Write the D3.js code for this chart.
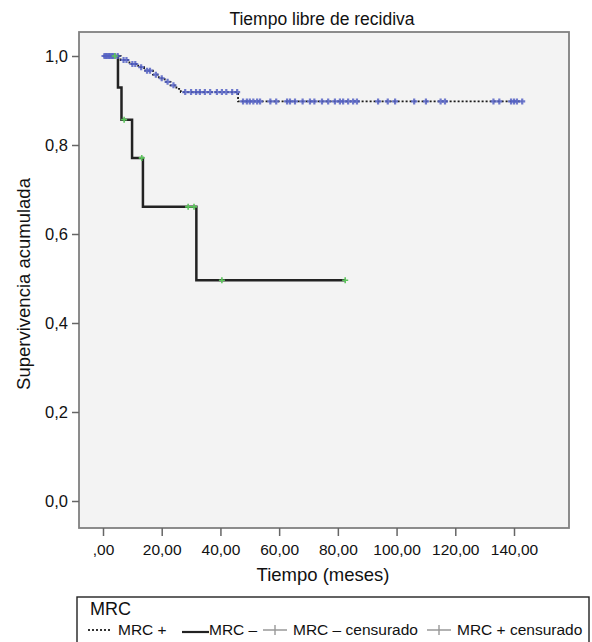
<!DOCTYPE html>
<html>
<head>
<meta charset="utf-8">
<script src="https://cdn.jsdelivr.net/npm/d3@7"></script>
<style>
  body { margin: 0; background: #fff; }
  text { font-family: "Liberation Sans", Arial, sans-serif; fill: #111; }
</style>
</head>
<body>
<script>
// Kaplan-Meier: tiempo libre de recidiva por MRC

const width = 592, height = 642;
const frame = {left: 79, right: 569, top: 32, bottom: 528};

const xTicks = [0, 20, 40, 60, 80, 100, 120, 140];
const yTicks = [0, 0.2, 0.4, 0.6, 0.8, 1.0];

// MRC - : steps (time, survival) and censored times
const negTimes = [0, 5.1, 6.3, 9.9, 13.6, 31.8, 82.5];
const negSurv  = [1, 0.929, 0.857, 0.771, 0.661, 0.496, 0.496];
const negCens  = [4, 7.2, 13.2, 29, 31, 40.5, 82.5];

// MRC + : steps and censored times
const posTimes = [0, 6, 9, 12, 14, 17, 19, 21, 23, 25, 26.5, 46, 142.8];
const posSurv  = [1, 0.991, 0.982, 0.975, 0.967, 0.958, 0.95, 0.942, 0.934, 0.926, 0.919, 0.898, 0.898];
const posCens  = [0.5, 1, 1.5, 2, 2.5, 3, 3.5, 4, 5, 7, 8, 10, 11, 13, 15, 16, 18, 20, 22, 24,
                  28, 30, 31.7, 33, 34.7, 36.5, 38.8, 40.5, 42, 44, 45.7,
                  47.7, 49, 50, 51.2, 52.5, 53.5, 57, 59, 62.7, 63.7, 65.4, 68, 70.5, 72, 74.6, 76.7,
                  79, 80.7, 81.8, 83.5, 85.2, 86.5, 93.7, 97, 99.5, 106, 110, 115, 116.5,
                  133, 135, 139, 140, 141, 142.8];

const svg = d3.select("body").append("svg")
  .attr("width", width).attr("height", height);

const x = d3.scaleLinear().domain([0, 140]).range([103, 514]);
const y = d3.scaleLinear().domain([0, 1]).range([501, 56]);

// plot area
svg.append("rect")
  .attr("x", frame.left).attr("y", frame.top)
  .attr("width", frame.right - frame.left).attr("height", frame.bottom - frame.top)
  .attr("fill", "#f3f3f3").attr("stroke", "#808080").attr("stroke-width", 1.8);

// title
svg.append("text").attr("x", 322).attr("y", 25)
  .attr("text-anchor", "middle").style("font-size", "17.5px")
  .text("Tiempo libre de recidiva");

// axes
const fmtX = d => d === 0 ? ",00" : d.toFixed(2).replace(".", ",");
const fmtY = d => d.toFixed(1).replace(".", ",");

const xAxis = svg.append("g")
  .attr("transform", "translate(0," + frame.bottom + ")")
  .call(d3.axisBottom(x).tickValues(xTicks).tickSize(8).tickPadding(8).tickFormat(fmtX));
const yAxis = svg.append("g")
  .attr("transform", "translate(" + frame.left + ",0)")
  .call(d3.axisLeft(y).tickValues(yTicks).tickSize(7).tickPadding(4).tickFormat(fmtY));

[xAxis, yAxis].forEach(g => {
  g.select(".domain").remove();
  g.selectAll("line").attr("stroke", "#666").attr("stroke-width", 1.5);
  g.selectAll("text")
    .style("font-family", "'Liberation Sans', Arial, sans-serif").attr("fill", "#111");
});
xAxis.selectAll("text").style("font-size", "15.5px");
yAxis.selectAll("text").style("font-size", "16.5px");

svg.append("text").attr("x", 323).attr("y", 581)
  .attr("text-anchor", "middle").style("font-size", "18.5px")
  .text("Tiempo (meses)");

svg.append("text")
  .attr("transform", "translate(30,284) rotate(-90)")
  .attr("text-anchor", "middle").style("font-size", "18.5px")
  .text("Supervivencia acumulada");

// curves
const toPts = (ts, ss) => ts.map((t, i) => [t, ss[i]]);
const survAt = (ts, ss, t) => { let s = ss[0]; ts.forEach((tt, i) => { if (tt <= t) s = ss[i]; }); return s; };

const step = d3.line().x(d => x(d[0])).y(d => y(d[1])).curve(d3.curveStepAfter);

svg.append("path").datum(toPts(posTimes, posSurv))
  .attr("d", step).attr("fill", "none")
  .attr("stroke", "#1a1a1a").attr("stroke-width", 1.8).attr("stroke-dasharray", "2,2");

svg.append("path").datum(toPts(negTimes, negSurv))
  .attr("d", step).attr("fill", "none")
  .attr("stroke", "#222").attr("stroke-width", 2.5);

const cross = "M-3,0H3M0,-3V3";

svg.append("g").selectAll("path")
  .data(posCens)
  .join("path")
  .attr("transform", d => "translate(" + x(d) + "," + y(survAt(posTimes, posSurv, d)) + ")")
  .attr("d", cross)
  .attr("stroke", "#5561c4").attr("stroke-width", 2.2).attr("stroke-opacity", 0.85);

svg.append("g").selectAll("path")
  .data(negCens)
  .join("path")
  .attr("transform", d => "translate(" + x(d) + "," + y(survAt(negTimes, negSurv, d)) + ")")
  .attr("d", cross)
  .attr("stroke", "#5cc45c").attr("stroke-width", 1.6);

// legend
const legend = svg.append("g");
legend.append("rect")
  .attr("x", 77).attr("y", 597).attr("width", 512).attr("height", 50)
  .attr("fill", "#fff").attr("stroke", "#222").attr("stroke-width", 1.4);
legend.append("text").attr("x", 90).attr("y", 615)
  .style("font-size", "18px").text("MRC");

const ly = 635;
const fs = "15.5px";
legend.append("line").attr("x1", 88).attr("x2", 112).attr("y1", ly - 5).attr("y2", ly - 5)
  .attr("stroke", "#333").attr("stroke-width", 1.8).attr("stroke-dasharray", "2,2");
legend.append("text").attr("x", 118).attr("y", ly).style("font-size", fs).text("MRC +");
legend.append("line").attr("x1", 182).attr("x2", 209).attr("y1", ly - 3).attr("y2", ly - 3)
  .attr("stroke", "#222").attr("stroke-width", 2.2);
legend.append("text").attr("x", 209).attr("y", ly).style("font-size", fs).text("MRC –");
legend.append("path").attr("transform", "translate(275," + (ly - 5) + ")")
  .attr("d", "M-12,0H12M0,-5V5").attr("stroke", "#999").attr("stroke-width", 1.4);
legend.append("text").attr("x", 293).attr("y", ly).style("font-size", fs).text("MRC – censurado");
legend.append("path").attr("transform", "translate(439," + (ly - 5) + ")")
  .attr("d", "M-12,0H12M0,-5V5").attr("stroke", "#999").attr("stroke-width", 1.4);
legend.append("text").attr("x", 457).attr("y", ly).style("font-size", fs).text("MRC + censurado");
</script>
</body>
</html>
